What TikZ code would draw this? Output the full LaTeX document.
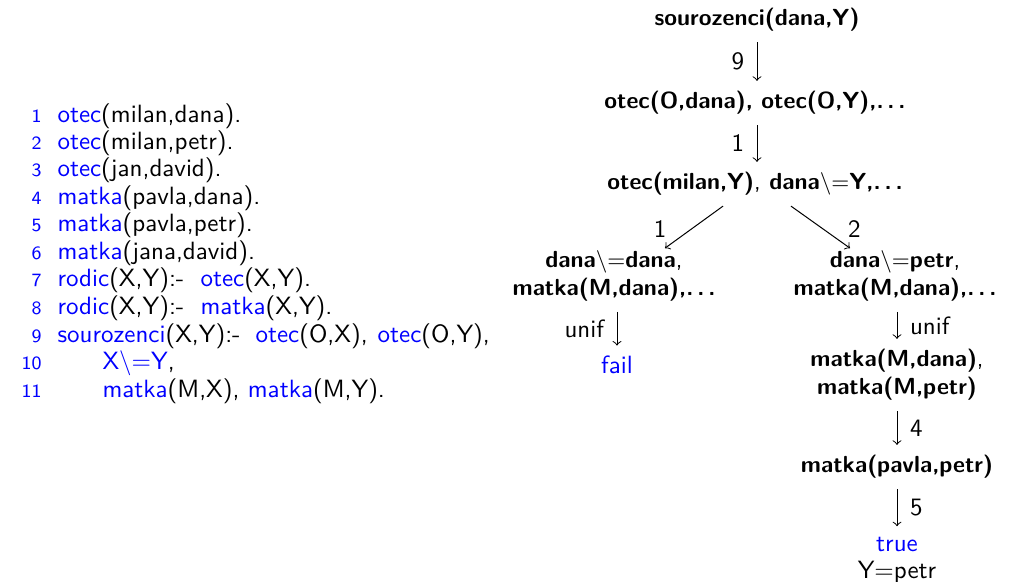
\documentclass[tikz,border=0pt]{standalone}
\usetikzlibrary{calc}
\newcommand\kw[1]{\textcolor{blue}{#1}}
\newcommand\nequ{$\backslash$$=$}
\newcommand\etc{.\,.\,.}
\begin{document}
\begin{tikzpicture}[x=0.4pt,y=-0.4pt,font=\sffamily\fontsize{10}{12}\selectfont,
  code/.style={anchor=base west,inner sep=0pt},
  num/.style={anchor=base east,inner sep=0pt,text=blue,font=\sffamily\fontsize{7.5}{9}\selectfont},
  goal/.style={inner sep=0pt,align=center,font=\sffamily\bfseries\fontsize{9.3}{11.2}\selectfont},
  res/.style={inner sep=0pt,align=center},
  arr/.style={->,shorten <=4pt,shorten >=4pt},
  lab/.style={inner sep=5pt}]
\useasboundingbox (0,0) rectangle (1013,581);
% listing
\foreach \i/\y in {1/122,2/149,3/176,4/204,5/231,6/259,7/286,8/314,9/342,10/369,11/397}
  \node[num] (n\i) at (42,\y) {\i};
\node[code] (l1) at (57,122) {\kw{otec}(milan,dana).};
\node[code] (l2) at (57,149) {\kw{otec}(milan,petr).};
\node[code] (l3) at (57,176) {\kw{otec}(jan,david).};
\node[code] (l4) at (57,204) {\kw{matka}(pavla,dana).};
\node[code] (l5) at (57,231) {\kw{matka}(pavla,petr).};
\node[code] (l6) at (57,259) {\kw{matka}(jana,david).};
\node[code] (l7) at (57,286) {\kw{rodic}(X,Y):-\hspace{6.5pt}\kw{otec}(X,Y).};
\node[code] (l8) at (57,314) {\kw{rodic}(X,Y):-\hspace{6.5pt}\kw{matka}(X,Y).};
\node[code] (l9) at (57,342) {\kw{sourozenci}(X,Y):-\hspace{6pt}\kw{otec}(O,X),\hspace{4pt}\kw{otec}(O,Y),};
\node[code] (l10) at (102,369) {\textcolor{blue}{X\nequ Y},};
\node[code] (l11) at (102,397) {\kw{matka}(M,X), \kw{matka}(M,Y).};
% tree
\node[goal] (g0) at (757,20) {sourozenci(dana,Y)};
\node[goal] (g1) at (755,103) {otec(O,dana), otec(O,Y),\etc};
\node[goal] (g2) at (755,184) {otec(milan,Y)\textmd{,} dana\nequ Y,\etc};
\node[goal] (g3) at (614,276) {dana\nequ dana\textmd{,}\\matka(M,dana),\etc};
\node[goal] (g4) at (895,276) {dana\nequ petr\textmd{,}\\matka(M,dana),\etc};
\node[res,text=blue] (fail) at (617,365) {fail};
\node[goal] (g5) at (897,375) {matka(M,dana)\textmd{,}\\matka(M,petr)};
\node[goal] (g6) at (897,467) {matka(pavla,petr)};
\node[res,text=blue] (true) at (897,544) {true};
\node[res] (y) at (897,572) {Y$=$petr};
\draw[arr] (g0.south -| g0) -- node[lab,left] {9} (g1.north -| g0);
\draw[arr] (g1.south -| g0) -- node[lab,left] {1} (g2.north -| g0);
\draw[->] ($(g2.south)+(-32,10)$) -- node[pos=0.75,xshift=-7.8pt,yshift=3.6pt] {1} ($(g3.north)+(51,-2)$);
\draw[->] ($(g2.south)+(36,10)$) -- node[pos=0.75,xshift=7.6pt,yshift=3.6pt] {2} ($(g4.north)+(-45,-2)$);
\draw[arr] (g3.south -| fail) -- node[lab,left] {unif} (fail.north);
\draw[arr] (g4.south -| g5) -- node[lab,right] {unif} (g5.north);
\draw[arr] (g5.south) -- node[lab,right] {4} (g6.north);
\draw[arr] (g6.south) -- node[lab,right] {5} (true.north);
\end{tikzpicture}
\end{document}
